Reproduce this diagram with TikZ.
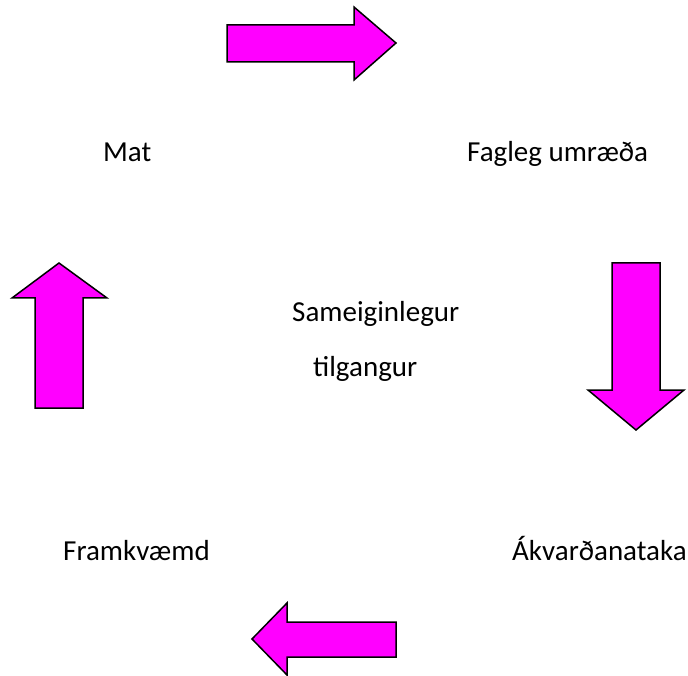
\documentclass[tikz,border=0pt]{standalone}
\usepackage{fontspec}
\setmainfont{Carlito}
\begin{document}
\begin{tikzpicture}[x=1pt,y=-1pt,
  blockarrow/.style={draw=black,line width=1.5pt,fill={rgb,255:red,255;green,0;blue,255},line join=miter},
  lbl/.style={anchor=base west,inner sep=0pt,font=\fontsize{29}{34}\selectfont}]
\useasboundingbox (0,0) rectangle (688,676);
% right arrow (top)
\draw[blockarrow] (227,25) -- (354,25) -- (354,7) -- (396,43) -- (354,80) -- (354,62) -- (227,62) -- cycle;
% down arrow (right)
\draw[blockarrow] (612,263) -- (660,263) -- (660,390) -- (684,390) -- (636,430) -- (588,390) -- (612,390) -- cycle;
% up arrow (left)
\draw[blockarrow] (35,408) -- (35,298) -- (12,298) -- (59,263) -- (107,298) -- (83,298) -- (83,408) -- cycle;
% left arrow (bottom)
\draw[blockarrow] (396,622) -- (287,622) -- (287,603) -- (252,639) -- (287,675) -- (287,657) -- (396,657) -- cycle;
\node[lbl] (mat) at (103,162) {Mat};
\node[lbl] (fag) at (467,162) {Fagleg umræða};
\node[lbl] (sam) at (292,322) {Sameiginlegur};
\node[lbl] (til) at (313,376) {tilgangur};
\node[lbl] (fra) at (63,560) {Framkvæmd};
\node[lbl] (akv) at (512,560) {Ákvarðanataka};
\end{tikzpicture}
\end{document}
